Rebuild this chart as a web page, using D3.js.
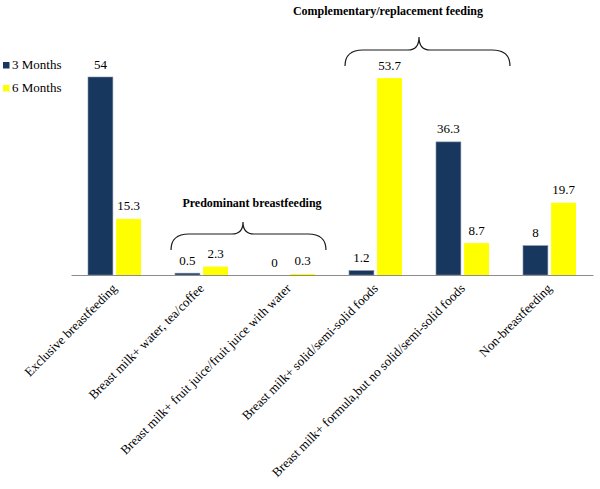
<!DOCTYPE html>
<html>
<head>
<meta charset="utf-8">
<script src="https://cdn.jsdelivr.net/npm/d3@7"></script>
<style>
  html, body { margin: 0; padding: 0; background: #fff; }
  svg { display: block; }
</style>
</head>
<body>
<svg id="chart" width="600" height="489"></svg>
<script>
const categories = [
  "Exclusive breastfeeding",
  "Breast milk+ water, tea/coffee",
  "Breast milk+ fruit juice/fruit juice with water",
  "Breast milk+ solid/semi-solid foods",
  "Breast milk+ formula,but no solid/semi-solid foods",
  "Non-breastfeeding"
];
const seriesNames = ["3 Months", "6 Months"];
const months3 = [54, 0.5, 0, 1.2, 36.3, 8];
const months6 = [15.3, 2.3, 0.3, 53.7, 8.7, 19.7];
const valueLabels3 = ["54", "0.5", "0", "1.2", "36.3", "8"];
const valueLabels6 = ["15.3", "2.3", "0.3", "53.7", "8.7", "19.7"];
const groups = [
  { label: "Predominant breastfeeding", from: 1, to: 2 },
  { label: "Complementary/replacement feeding", from: 3, to: 4 }
];
const colors = ["#17375e", "#ffff00"];
const FONT = "'Liberation Serif', 'Times New Roman', Times, serif";

const svg = d3.select("#chart");
const x0 = 71, x1 = 593, yBase = 275;
const x = d3.scaleBand().domain(categories).range([x0, x1]);
const xs = d3.scaleBand().domain(seriesNames).range([17, 70]).paddingInner(0.115);
const y = d3.scaleLinear().domain([0, 60]).range([yBase, yBase - 220]);

const data = categories.map((c, i) => ({
  cat: c,
  vals: [
    { s: seriesNames[0], v: months3[i], t: valueLabels3[i] },
    { s: seriesNames[1], v: months6[i], t: valueLabels6[i] }
  ]
}));

const g = svg.append("g");
const grp = g.selectAll("g.cat").data(data).enter().append("g")
  .attr("transform", d => `translate(${x(d.cat)},0)`);

grp.selectAll("rect").data(d => d.vals).enter().append("rect")
  .attr("x", d => xs(d.s))
  .attr("width", xs.bandwidth())
  .attr("y", d => y(d.v))
  .attr("height", d => yBase - y(d.v))
  .attr("fill", (d, i) => colors[i])
  .attr("stroke", (d, i) => i === 0 ? "#7f8fa6" : "none")
  .attr("stroke-width", 0.6);

grp.selectAll("text.val").data(d => d.vals).enter().append("text")
  .attr("class", "val")
  .attr("x", d => xs(d.s) + xs.bandwidth() / 2)
  .attr("y", d => y(d.v) - 8.5)
  .attr("text-anchor", "middle")
  .style("font-family", FONT)
  .style("font-size", "13px")
  .attr("fill", "#000")
  .text(d => d.t);

// axis
const axis = d3.axisBottom(x).tickSize(0).tickPadding(0);
const ax = svg.append("g").attr("transform", `translate(0,${yBase})`).call(axis);
ax.select(".domain").attr("stroke", "#8c8c8c").attr("stroke-width", 1.2);
ax.selectAll(".tick text")
  .style("font-family", FONT)
  .style("font-size", "13px")
  .attr("fill", "#000")
  .attr("text-anchor", "end")
  .attr("transform", "translate(0,11) rotate(-45)")
  .attr("dy", "0.35em")
  .attr("x", 0).attr("y", 0);

// legend
const leg = svg.append("g");
seriesNames.forEach((s, i) => {
  leg.append("rect").attr("x", 3).attr("y", 62 + i * 23).attr("width", 6.5).attr("height", 6.5).attr("fill", colors[i]);
  leg.append("text").attr("x", 12).attr("y", 69 + i * 23)
    .style("font-family", FONT).style("font-size", "13px").attr("fill", "#000").text(s);
});

// braces
const braceGeom = [
  { yTop: 222, yH: 234, yB: 250, l: 171, r: 326, labelY: 207, labelX: 252 },
  { yTop: 37, yH: 50, yB: 66, l: 345, r: 510, labelY: 15, labelX: 388 }
];
groups.forEach((gr, i) => {
  const b = braceGeom[i];
  const cx = (x(categories[gr.from]) + x(categories[gr.to]) + x.bandwidth()) / 2 + (i === 0 ? -2 : 0);
  const rr = 18, cr = 11;
  const p = d3.path();
  p.moveTo(b.l, b.yB);
  p.quadraticCurveTo(b.l, b.yH, b.l + rr, b.yH);
  p.lineTo(cx - cr, b.yH);
  p.quadraticCurveTo(cx, b.yH, cx, b.yTop);
  p.quadraticCurveTo(cx, b.yH, cx + cr, b.yH);
  p.lineTo(b.r - rr, b.yH);
  p.quadraticCurveTo(b.r, b.yH, b.r, b.yB);
  svg.append("path").attr("d", p.toString()).attr("fill", "none").attr("stroke", "#1a1a1a").attr("stroke-width", 1.2);
  svg.append("text").attr("x", b.labelX).attr("y", b.labelY).attr("text-anchor", "middle")
    .style("font-family", FONT).style("font-size", "12px").style("font-weight", "bold")
    .attr("fill", "#000").text(gr.label);
});
</script>
</body>
</html>
